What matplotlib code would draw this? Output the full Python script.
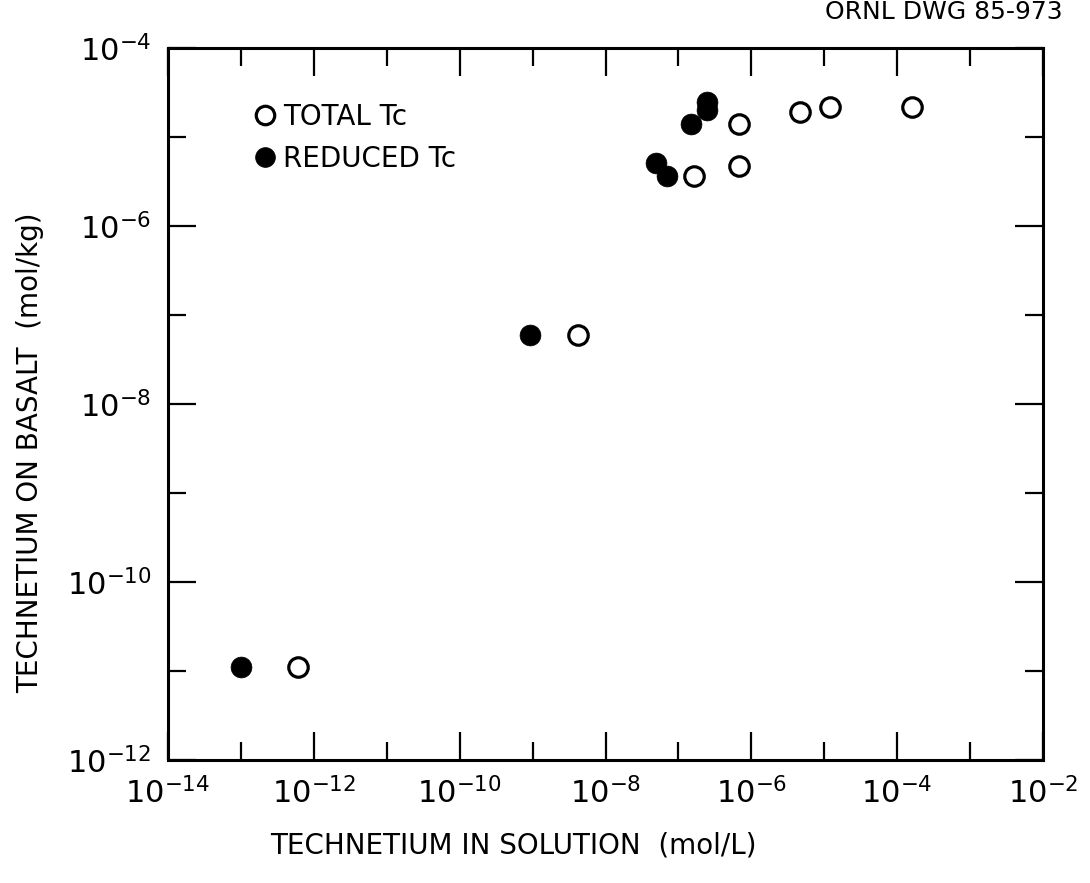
import numpy as np
import matplotlib.pyplot as plt
from matplotlib.ticker import FixedLocator, LogFormatterMathtext, NullFormatter

# Data (mol/L in solution, mol/kg on basalt)
total_x = [6e-13, 4.2e-9, 1.65e-7, 6.7e-7, 6.7e-7, 4.6e-6, 1.2e-5, 1.6e-4]
total_y = [1.1e-11, 6e-8, 3.6e-6, 4.7e-6, 1.4e-5, 1.9e-5, 2.2e-5, 2.2e-5]

reduced_x = [1e-13, 9.3e-10, 4.9e-8, 6.9e-8, 1.5e-7, 2.5e-7, 2.45e-7]
reduced_y = [1.1e-11, 6e-8, 5.1e-6, 3.6e-6, 1.4e-5, 2.5e-5, 2e-5]

major_x = [10.0**k for k in range(-14, -1, 2)]
minor_x = [10.0**k for k in range(-13, -2, 2)]
major_y = [10.0**k for k in range(-12, -3, 2)]
minor_y = [10.0**k for k in range(-11, -4, 2)]

plt.rcParams['font.family'] = 'DejaVu Sans'
plt.rcParams['mathtext.fontset'] = 'dejavusans'

fig = plt.figure(figsize=(10.9, 8.83), dpi=100)
ax = fig.add_axes([168/1090, 1 - 760/883, 875/1090, 712/883])

ax.set_xscale('log')
ax.set_yscale('log')
ax.set_xlim(1e-14, 1e-2)
ax.set_ylim(1e-12, 1e-4)

ax.plot(total_x, total_y, 'o', ms=14, mfc='white', mec='black', mew=2.3,
        ls='none', label='TOTAL Tc', zorder=3)
ax.plot(reduced_x, reduced_y, 'o', ms=15, mfc='black', mec='black', mew=0.5,
        ls='none', label='REDUCED Tc', zorder=4)

ax.xaxis.set_major_locator(FixedLocator(major_x))
ax.xaxis.set_minor_locator(FixedLocator(minor_x))
ax.yaxis.set_major_locator(FixedLocator(major_y))
ax.yaxis.set_minor_locator(FixedLocator(minor_y))
ax.xaxis.set_major_formatter(LogFormatterMathtext())
ax.yaxis.set_major_formatter(LogFormatterMathtext())
ax.xaxis.set_minor_formatter(NullFormatter())
ax.yaxis.set_minor_formatter(NullFormatter())

ax.tick_params(which='both', direction='in', top=True, right=True,
               width=1.6, labelsize=22)
ax.tick_params(which='major', length=20, pad=12)
ax.tick_params(which='minor', length=13)
for s in ax.spines.values():
    s.set_linewidth(2.2)

ax.set_xlabel('TECHNETIUM IN SOLUTION  (mol/L)', fontsize=20)
ax.set_ylabel('TECHNETIUM ON BASALT  (mol/kg)', fontsize=20)
# labels sit off-centre in the original drawing
ax.xaxis.set_label_coords(0.395, -0.101)
ax.yaxis.set_label_coords(-0.142, 0.431)

fig.text(0.975, 0.986, 'ORNL DWG 85-973', ha='right', va='center', fontsize=18)

ax.legend(loc='upper left', bbox_to_anchor=(0.066, 0.958), frameon=False,
          fontsize=20, handletextpad=0.15, labelspacing=0.5, markerscale=0.95,
          handlelength=1.0)

fig.savefig('out.png', dpi=100)
